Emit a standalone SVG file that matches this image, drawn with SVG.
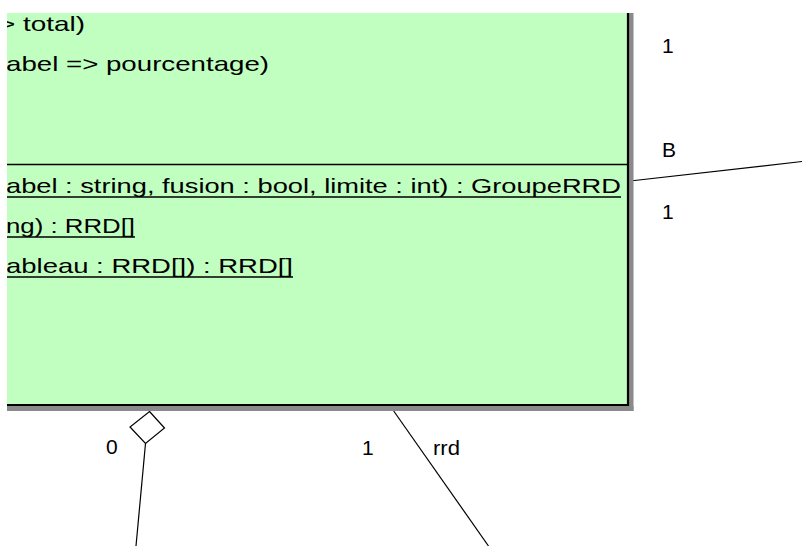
<svg xmlns="http://www.w3.org/2000/svg" width="802" height="546" viewBox="0 0 802 546">
  <style>
    .t { font-family: "Liberation Sans", Arial, sans-serif; font-size: 21px; fill: #000; }
    .u { stroke: #000; stroke-width: 1.5; }
    .c { stroke: #000; stroke-width: 1.2; fill: none; }
  </style>
  <defs>
    <clipPath id="boxclip">
      <rect x="7" y="13" width="621" height="392"/>
    </clipPath>
  </defs>
  <rect width="802" height="546" fill="#fff"/>
  <g id="connectors">
    <line class="c" x1="630" y1="181" x2="802" y2="161.5"/>
    <polygon class="c" fill="#fff" points="149.5,411.5 164.5,428 145.5,443.5 130,427"/>
    <line class="c" x1="145.5" y1="443.5" x2="136" y2="546"/>
    <line class="c" x1="393" y1="410" x2="488.5" y2="546"/>
    <text class="t" x="662" y="53">1</text>
    <text class="t" x="662" y="157">B</text>
    <text class="t" x="662" y="219">1</text>
    <text class="t" x="106" y="454">0</text>
    <text class="t" x="362" y="455">1</text>
    <text class="t" x="433" y="455" textLength="27" lengthAdjust="spacingAndGlyphs">rrd</text>
  </g>
  <g id="class-box">
    <rect x="629" y="13" width="4.5" height="398" fill="#8a8a8a"/>
    <rect x="7" y="406" width="626.5" height="5" fill="#8a8a8a"/>
    <rect x="7" y="13" width="621" height="392" fill="#c0ffc0"/>
    <line x1="628" y1="13" x2="628" y2="406" stroke="#000" stroke-width="2.2"/>
    <line x1="7" y1="405" x2="629" y2="405" stroke="#000" stroke-width="2.2"/>
    <line x1="7" y1="164.5" x2="628" y2="164.5" stroke="#000" stroke-width="1.5"/>
    <g clip-path="url(#boxclip)">
      <text class="t" x="-1" y="31" textLength="86" lengthAdjust="spacingAndGlyphs">&gt; total)</text>
      <text class="t" x="6" y="71" textLength="263" lengthAdjust="spacingAndGlyphs">abel =&gt; pourcentage)</text>
      <text class="t" x="6" y="193" textLength="615" lengthAdjust="spacingAndGlyphs">abel : string, fusion : bool, limite : int) : GroupeRRD</text>
      <line class="u" x1="7" y1="197" x2="621" y2="197"/>
      <text class="t" x="6" y="233" textLength="129" lengthAdjust="spacingAndGlyphs">ng) : RRD[]</text>
      <line class="u" x1="7" y1="237" x2="135" y2="237"/>
      <text class="t" x="6" y="273" textLength="287" lengthAdjust="spacingAndGlyphs">ableau : RRD[]) : RRD[]</text>
      <line class="u" x1="7" y1="277" x2="293" y2="277"/>
    </g>
  </g>
</svg>
